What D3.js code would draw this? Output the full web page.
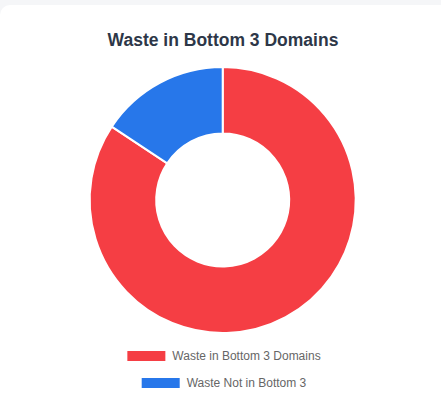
<!DOCTYPE html>
<html>
<head>
<meta charset="utf-8">
<script src="https://cdn.jsdelivr.net/npm/d3@7"></script>
<style>
  html, body { margin: 0; padding: 0; background: #f5f6f8; }
  svg { display: block; }
</style>
</head>
<body>
<svg width="441" height="418"></svg>
<script>
// donnees du graphique
const labels = ["Waste in Bottom 3 Domains", "Waste Not in Bottom 3"];
const values = [84.3, 15.7];
const colors = ["#F53E44", "#2777EA"];
const title = "Waste in Bottom 3 Domains";

const width = 441, height = 418;
const svg = d3.select("svg");

// carte blanche
svg.append("rect")
  .attr("x", 0)
  .attr("y", 5)
  .attr("width", width + 20)
  .attr("height", height + 20)
  .attr("rx", 10)
  .attr("fill", "#fff");

// titre
svg.append("text")
  .attr("x", 223)
  .attr("y", 46)
  .attr("text-anchor", "middle")
  .attr("font-family", "'Liberation Sans', Arial, sans-serif")
  .attr("font-size", "17.5px")
  .attr("font-weight", "bold")
  .attr("fill", "#2d3748")
  .text(title);

// donut
const cx = 222.7, cy = 200, radius = 133;
const pie = d3.pie().sort(null).value(d => d);
const arc = d3.arc().innerRadius(radius * 0.5).outerRadius(radius);

const g = svg.append("g").attr("transform", `translate(${cx},${cy})`);
g.selectAll("path")
  .data(pie(values))
  .enter()
  .append("path")
  .attr("d", arc)
  .attr("fill", (d, i) => colors[i])
  .attr("stroke", "#fff")
  .attr("stroke-width", 2);

// legende (une ligne par item, centree)
const legend = svg.append("g")
  .attr("font-family", "'Liberation Sans', Arial, sans-serif")
  .attr("font-size", "12px");

labels.forEach((label, i) => {
  const rowY = 356 + i * 27;
  const item = legend.append("g");
  const txt = item.append("text")
    .attr("y", rowY)
    .attr("dy", "0.35em")
    .attr("fill", "#666")
    .text(label);
  const tw = txt.node().getComputedTextLength();
  const itemW = 40 + 6 + tw;
  const x0 = 223.5 - itemW / 2;
  txt.attr("x", x0 + 46);
  item.insert("rect", "text")
    .attr("x", x0 + 1)
    .attr("y", rowY - 5)
    .attr("width", 38)
    .attr("height", 10)
    .attr("fill", colors[i]);
});
</script>
</body>
</html>
